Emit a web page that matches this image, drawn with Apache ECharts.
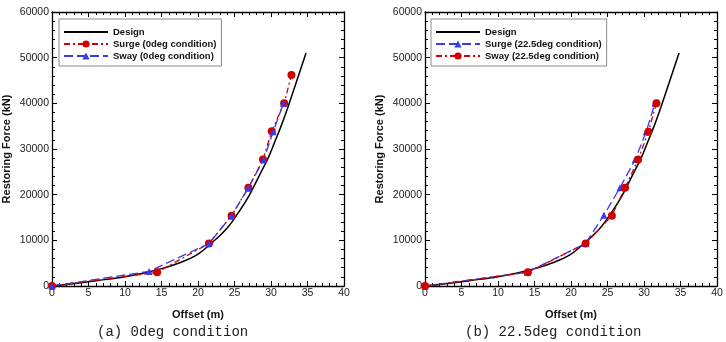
<!DOCTYPE html>
<html>
<head>
<meta charset="utf-8">
<script src="https://cdn.jsdelivr.net/npm/echarts@6/dist/echarts.min.js"></script>
<style>
  html, body { margin: 0; padding: 0; background: #fff; }
  #chart { width: 726px; height: 342px; }
</style>
</head>
<body>
<div id="chart"></div>
<script>
// design curve (same in both panels)
var designX = [0, 2.5, 5, 7.5, 10, 12.5, 15, 17.5, 20, 22, 24, 25.5, 27, 28.5, 29.6, 30.5, 31.5, 32.5, 33.5, 34.8];
var designY = [0, 420, 950, 1450, 2050, 2800, 3800, 5100, 7000, 9600, 12700, 16000, 19800, 24500, 28000, 31500, 35500, 40000, 44800, 51000];

// (a) 0deg condition
var surge0X = [0, 14.4, 21.5, 24.6, 26.9, 28.9, 30.1, 31.8, 32.8];
var surge0Y = [0, 3000, 9300, 15400, 21500, 27700, 33900, 40000, 46200];
var sway0X = [0, 13.3, 21.5, 24.6, 26.9, 29.0, 30.3, 31.7];
var sway0Y = [0, 3200, 9300, 15400, 21500, 27700, 33800, 40000];

// (b) 22.5deg condition
var surge22X = [0, 14.0, 22.0, 24.5, 26.7, 28.8, 30.3, 31.5];
var surge22Y = [0, 3000, 9300, 15500, 21500, 27700, 33800, 40000];
var sway22X = [0, 14.1, 22.0, 25.6, 27.4, 29.2, 30.6, 31.7];
var sway22Y = [0, 3000, 9300, 15400, 21500, 27700, 33800, 40000];

var captions = ['(a) 0deg condition', '(b) 22.5deg condition'];

function pairs(xs, ys) {
  var out = [];
  for (var i = 0; i < xs.length; i++) out.push([xs[i], ys[i]]);
  return out;
}

var RED = '#d00000';
var BLUE = '#3a3ae8';
var labelFont = 'Liberation Sans, Arial, sans-serif';

function xAx(grid, pos) {
  var bottom = pos === 'bottom';
  return {
    type: 'value', gridIndex: grid, position: pos, min: 0, max: 40, interval: 5,
    name: bottom ? 'Offset (m)' : '', nameLocation: 'middle', nameGap: 23,
    nameTextStyle: { fontFamily: labelFont, fontWeight: 'bold', fontSize: 11, color: '#111' },
    axisLine: { show: true, onZero: false, lineStyle: { color: '#000', width: 1.3 } },
    axisTick: { show: true, inside: true, length: 5, lineStyle: { color: '#000' } },
    minorTick: { show: true, splitNumber: 5, length: 3, lineStyle: { color: '#000' } },
    splitLine: { show: false },
    axisLabel: { show: bottom, fontFamily: labelFont, fontSize: 10.5, color: '#222', margin: 2 }
  };
}

function yAx(grid, pos) {
  var left = pos === 'left';
  return {
    type: 'value', gridIndex: grid, position: pos, min: 0, max: 60000, interval: 10000,
    name: left ? 'Restoring Force (kN)' : '', nameLocation: 'middle', nameGap: 40,
    nameTextStyle: { fontFamily: labelFont, fontWeight: 'bold', fontSize: 11, color: '#111' },
    axisLine: { show: true, onZero: false, lineStyle: { color: '#000', width: 1.3 } },
    axisTick: { show: true, inside: true, length: 5, lineStyle: { color: '#000' } },
    minorTick: { show: true, splitNumber: 5, length: 3, lineStyle: { color: '#000' } },
    splitLine: { show: false },
    axisLabel: {
      show: left, fontFamily: labelFont, fontSize: 10.5, color: '#222', margin: 3,
      formatter: function (v) { return String(v); }
    }
  };
}

function designSeries(name, xi, yi) {
  return {
    name: name, type: 'line', xAxisIndex: xi, yAxisIndex: yi,
    data: pairs(designX, designY), smooth: 0.4, showSymbol: false, symbol: 'none',
    lineStyle: { color: '#000', width: 1.5 }, itemStyle: { color: '#000' }, z: 2
  };
}

function redSeries(name, xs, ys, xi, yi) {
  return {
    name: name, type: 'line', xAxisIndex: xi, yAxisIndex: yi,
    data: pairs(xs, ys), symbol: 'circle', symbolSize: 8,
    lineStyle: { color: RED, width: 1.3, type: [6, 3, 2, 3] },
    itemStyle: { color: RED }, z: 3
  };
}

function blueSeries(name, xs, ys, xi, yi) {
  return {
    name: name, type: 'line', xAxisIndex: xi, yAxisIndex: yi,
    data: pairs(xs, ys), symbol: 'triangle', symbolSize: 7,
    lineStyle: { color: BLUE, width: 1.3, type: [9, 4] },
    itemStyle: { color: BLUE }, z: 3
  };
}

function legendFor(left, names) {
  return {
    orient: 'vertical', left: left, top: 19,
    data: [{ name: names[0], itemStyle: { opacity: 0 } }, names[1], names[2]],
    itemWidth: 44, itemHeight: 9, itemGap: 2,
    padding: [8, 5, 5, 4],
    backgroundColor: '#fff', borderColor: '#8a8a8a', borderWidth: 1,
    textStyle: { fontFamily: labelFont, fontWeight: 'bold', fontSize: 9.5, color: '#111' },
    selectedMode: false
  };
}

var chart = echarts.init(document.getElementById('chart'), null, { renderer: 'canvas' });

chart.setOption({
  animation: false,
  backgroundColor: '#fff',
  grid: [
    { left: 51, top: 12, width: 293, height: 274 },
    { left: 425, top: 12, width: 292, height: 274 }
  ],
  xAxis: [xAx(0, 'bottom'), xAx(0, 'top'), xAx(1, 'bottom'), xAx(1, 'top')],
  yAxis: [yAx(0, 'left'), yAx(0, 'right'), yAx(1, 'left'), yAx(1, 'right')],
  legend: [
    legendFor(59, ['Design', 'Surge (0deg condition)', 'Sway (0deg condition)']),
    legendFor(431, ['Design ', 'Surge (22.5deg condition)', 'Sway (22.5deg condition)'])
  ],
  series: [
    designSeries('Design', 0, 0),
    redSeries('Surge (0deg condition)', surge0X, surge0Y, 0, 0),
    blueSeries('Sway (0deg condition)', sway0X, sway0Y, 0, 0),
    designSeries('Design ', 2, 2),
    blueSeries('Surge (22.5deg condition)', surge22X, surge22Y, 2, 2),
    redSeries('Sway (22.5deg condition)', sway22X, sway22Y, 2, 2)
  ],
  graphic: [
    { type: 'text', left: 97, top: 325, style: { text: captions[0], font: '14px "Liberation Mono", monospace', fill: '#222' } },
    { type: 'text', left: 465, top: 325, style: { text: captions[1], font: '14px "Liberation Mono", monospace', fill: '#222' } }
  ]
});
</script>
</body>
</html>
